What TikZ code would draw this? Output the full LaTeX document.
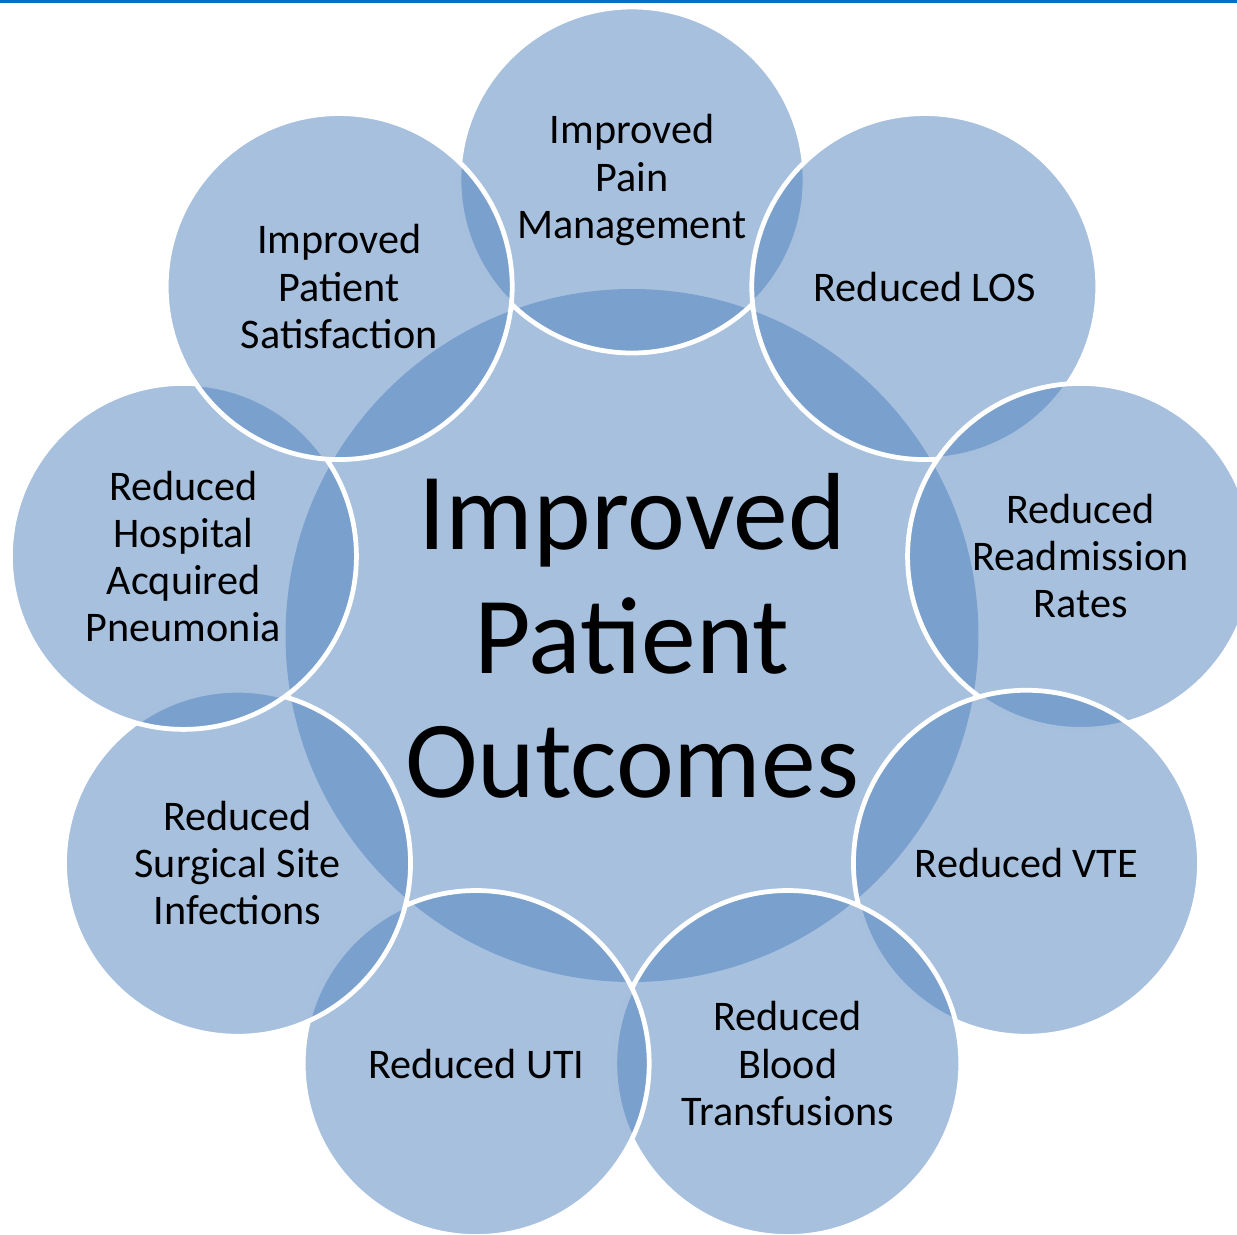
\documentclass[tikz,border=0pt]{standalone}
\usepackage{fontspec}
\setmainfont{Carlito}
\usepackage{xcolor}
\usetikzlibrary{calc}
\definecolor{bubbleblue}{RGB}{79,129,189}
\definecolor{topblue}{RGB}{0,112,192}
\tikzset{
  bubble/.style={circle, inner sep=0pt, minimum size=3.46cm, fill=bubbleblue,
    fill opacity=0.5, text opacity=1, draw=white, draw opacity=1,
    line width=1.35pt, align=center, font=\fontsize{12}{13.4}\selectfont},
  hubbubble/.style={bubble, draw=none, minimum size=6.93cm,
    font=\fontsize{31.2}{35.3}\selectfont}
}

\begin{document}
\begin{tikzpicture}
\useasboundingbox (0,0) rectangle (12.37,-12.35);
\clip (0,0) rectangle (12.37,-12.35);
% Linea azul superior
\fill[topblue] (0,0) rectangle (12.37,-0.025);
% Circulo central y circulos alrededor, cada 40 grados
\begin{scope}[shift={(6.32,-6.355)}]
\node[hubbubble] (hub) at (0,0) {Improved\\Patient\\Outcomes};
\node[bubble] (pain) at (90:4.555) {Improved\\Pain\\Management};
\node[bubble] (los) at (50:4.555) {Reduced LOS};
\node[bubble] (readmit) at (10:4.555) {Reduced\\Readmission\\Rates};
\node[bubble] (vte) at (-30:4.555) {Reduced VTE};
\node[bubble] (blood) at (-70:4.555) {Reduced\\Blood\\Transfusions};
\node[bubble] (uti) at (-110:4.555) {Reduced UTI};
\node[bubble] (ssi) at (-150:4.555) {Reduced\\Surgical Site\\Infections};
\node[bubble] (hap) at (170:4.555) {Reduced\\Hospital\\Acquired\\Pneumonia};
\node[bubble] (satisf) at (130:4.555) {Improved\\Patient\\Satisfaction};
\end{scope}
\end{tikzpicture}
\end{document}
